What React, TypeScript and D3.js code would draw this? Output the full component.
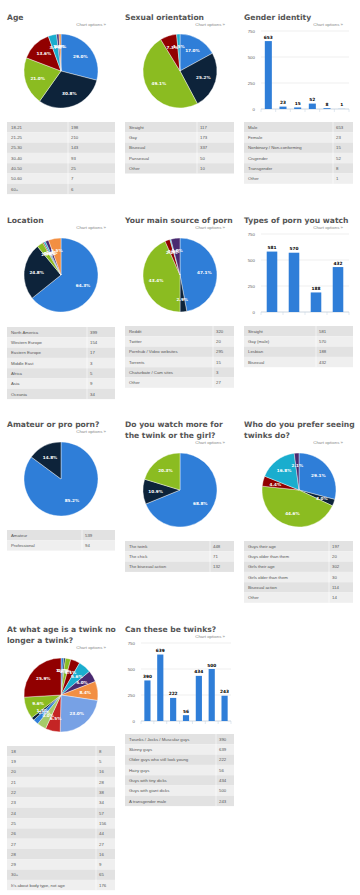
import * as d3 from "d3";

const COLORS = ["#2f7ed8", "#0d233a", "#8bbc21", "#910000", "#1aadce", "#492970", "#f28f43", "#77a1e5", "#c42525", "#a6c96a"];

const ageLabels = ["18-21", "21-25", "25-30", "30-40", "40-50", "50-60", "60+"];
const ageValues = [198, 210, 143, 93, 25, 7, 6];

const orientationLabels = ["Straight", "Gay", "Bisexual", "Pansexual", "Other"];
const orientationValues = [117, 173, 337, 50, 10];

const genderLabels = ["Male", "Female", "Nonbinary / Non-conforming", "Cisgender", "Transgender", "Other"];
const genderValues = [653, 23, 15, 52, 8, 1];

const locationLabels = ["North America", "Western Europe", "Eastern Europe", "Middle East", "Africa", "Asia", "Oceania"];
const locationValues = [399, 154, 17, 3, 5, 9, 34];

const sourceLabels = ["Reddit", "Twitter", "Pornhub / Video websites", "Torrents", "Chaturbate / Cam sites", "Other"];
const sourceValues = [320, 20, 295, 15, 3, 27];

const typeLabels = ["Straight", "Gay (male)", "Lesbian", "Bisexual"];
const typeValues = [581, 570, 188, 432];

const amateurLabels = ["Amateur", "Professional"];
const amateurValues = [539, 94];

const watchLabels = ["The twink", "The chick", "The bisexual action"];
const watchValues = [448, 71, 132];

const preferLabels = ["Guys their age", "Guys older than them", "Girls their age", "Girls older than them", "Bisexual action", "Other"];
const preferValues = [197, 20, 302, 30, 114, 14];

const twinkAgeLabels = ["18", "19", "20", "21", "22", "23", "24", "25", "26", "27", "28", "29", "30+", "It's about body type, not age"];
const twinkAgeValues = [8, 5, 16, 28, 38, 34, 57, 156, 44, 27, 16, 9, 65, 176];

const canLabels = ["Twunks / Jocks / Muscular guys", "Skinny guys", "Older guys who still look young", "Hairy guys", "Guys with tiny dicks", "Guys with giant dicks", "A transgender male"];
const canValues = [390, 639, 222, 56, 434, 500, 243];

const barTicks = [0, 250, 500, 750];

const TITLE_FONT = "'DejaVu Sans', Verdana, sans-serif";
const BODY_FONT = "'Liberation Sans', Arial, sans-serif";

function Title({ x, y, lines, optY, optX }: { x: number; y: number; lines: string[]; optY: number; optX: number }) {
  return (
    <g>
      {lines.map((t, i) => (
        <text key={i} x={x} y={y + i * 11} fontFamily={TITLE_FONT} fontWeight="bold" fontSize={7.6} fill="#555">
          {t}
        </text>
      ))}
      <text x={optX} y={optY} textAnchor="end" fontFamily={BODY_FONT} fontSize={4.4} fill="#888">
        Chart options »
      </text>
    </g>
  );
}

function PieChart({ cx, cy, r, values }: { cx: number; cy: number; r: number; values: number[] }) {
  const arcs = d3.pie<number>().sort(null).value((d) => d)(values);
  const arc = d3.arc<d3.PieArcDatum<number>>().innerRadius(0).outerRadius(r);
  const labelArc = d3.arc<d3.PieArcDatum<number>>().innerRadius(r * 0.66).outerRadius(r * 0.66);
  const total = d3.sum(values);
  return (
    <g transform={`translate(${cx},${cy})`}>
      {arcs.map((a, i) => (
        <path key={i} d={arc(a) ?? ""} fill={COLORS[i % COLORS.length]} stroke="#fff" strokeWidth={0.4} />
      ))}
      {arcs.map((a, i) => {
        const [lx, ly] = labelArc.centroid(a);
        return (
          <text key={i} x={lx} y={ly + 1.5} textAnchor="middle" fontFamily={TITLE_FONT} fontWeight="bold" fontSize={4.2} fill="#fff">
            {((a.value / total) * 100).toFixed(1)}%
          </text>
        );
      })}
    </g>
  );
}

function BarChart({ x0, x1, y0, y1, labels, values }: { x0: number; x1: number; y0: number; y1: number; labels: string[]; values: number[] }) {
  const x = d3.scaleBand().domain(labels).range([x0, x1]).paddingInner(0.52).paddingOuter(0.26);
  const y = d3.scaleLinear().domain([0, 750]).range([y1, y0]);
  const step = (x1 - x0) / labels.length;
  return (
    <g>
      {barTicks.map((t) => (
        <g key={t}>
          <line x1={x0} x2={x1} y1={y(t)} y2={y(t)} stroke="#dedede" strokeWidth={0.5} />
          <text x={x0 - 6} y={y(t) + 1.5} textAnchor="end" fontFamily={BODY_FONT} fontSize={4.4} fill="#666">
            {t}
          </text>
        </g>
      ))}
      <line x1={x0} x2={x1} y1={y1} y2={y1} stroke="#c0d0e0" strokeWidth={0.6} />
      {d3.range(labels.length + 1).map((i) => (
        <line key={i} x1={x0 + i * step} x2={x0 + i * step} y1={y1} y2={y1 + 3} stroke="#c0d0e0" strokeWidth={0.5} />
      ))}
      {labels.map((l, i) => (
        <g key={l}>
          <rect x={x(l)} y={y(values[i])} width={x.bandwidth()} height={y1 - y(values[i])} fill="#2f7ed8" />
          <text x={(x(l) ?? 0) + x.bandwidth() / 2} y={y(values[i]) - 2.5} textAnchor="middle" fontFamily={TITLE_FONT} fontWeight="bold" fontSize={4.3} fill="#000">
            {values[i]}
          </text>
        </g>
      ))}
    </g>
  );
}

function DataTable({ x, y, w, split, labels, values }: { x: number; y: number; w: number; split: number; labels: string[]; values: number[] }) {
  const rowH = 10.3;
  return (
    <g>
      {labels.map((l, i) => (
        <g key={l}>
          <rect x={x} y={y + i * rowH} width={w} height={rowH} fill={i % 2 === 0 ? "#e2e2e2" : "#efefef"} />
          <text x={x + 4} y={y + i * rowH + 6.8} fontFamily={BODY_FONT} fontSize={4.3} fill="#555">
            {l}
          </text>
          <text x={split + 3} y={y + i * rowH + 6.8} fontFamily={BODY_FONT} fontSize={4.3} fill="#555">
            {values[i]}
          </text>
        </g>
      ))}
      <line x1={split} x2={split} y1={y} y2={y + labels.length * rowH} stroke="#fff" strokeWidth={0.6} />
    </g>
  );
}

export default function App() {
  const R = 37;
  return (
    <div style={{ position: "absolute", left: 0, top: 0, width: 360, height: 895, background: "#fff" }}>
      <svg width={360} height={895} style={{ display: "block" }}>
        <rect width={360} height={895} fill="#fff" />

        {/* row 1 */}
        <Title x={7} y={20} lines={["Age"]} optX={106} optY={26} />
        <PieChart cx={61} cy={71} r={R} values={ageValues} />
        <DataTable x={7} y={122} w={108} split={68} labels={ageLabels} values={ageValues} />

        <Title x={125} y={20} lines={["Sexual orientation"]} optX={225} optY={26} />
        <PieChart cx={180} cy={71} r={R} values={orientationValues} />
        <DataTable x={125} y={122} w={109} split={197} labels={orientationLabels} values={orientationValues} />

        <Title x={244} y={20} lines={["Gender identity"]} optX={343} optY={26} />
        <BarChart x0={261} x1={349} y0={31} y1={109} labels={genderLabels} values={genderValues} />
        <DataTable x={244} y={122} w={109} split={333} labels={genderLabels} values={genderValues} />

        {/* row 2 */}
        <Title x={7} y={223} lines={["Location"]} optX={106} optY={229} />
        <PieChart cx={61} cy={275} r={R} values={locationValues} />
        <DataTable x={7} y={327} w={108} split={87} labels={locationLabels} values={locationValues} />

        <Title x={125} y={223} lines={["Your main source of porn"]} optX={225} optY={229} />
        <PieChart cx={180} cy={275} r={R} values={sourceValues} />
        <DataTable x={125} y={326} w={109} split={213} labels={sourceLabels} values={sourceValues} />

        <Title x={244} y={223} lines={["Types of porn you watch"]} optX={343} optY={229} />
        <BarChart x0={261} x1={349} y0={234} y1={312} labels={typeLabels} values={typeValues} />
        <DataTable x={244} y={326} w={109} split={316} labels={typeLabels} values={typeValues} />

        {/* row 3 */}
        <Title x={7} y={427} lines={["Amateur or pro porn?"]} optX={106} optY={433} />
        <PieChart cx={61} cy={479} r={R} values={amateurValues} />
        <DataTable x={7} y={530} w={108} split={82} labels={amateurLabels} values={amateurValues} />

        <Title x={125} y={427} lines={["Do you watch more for", "the twink or the girl?"]} optX={225} optY={444} />
        <PieChart cx={180} cy={490} r={R} values={watchValues} />
        <DataTable x={125} y={541} w={109} split={210} labels={watchLabels} values={watchValues} />

        <Title x={244} y={427} lines={["Who do you prefer seeing", "twinks do?"]} optX={343} optY={444} />
        <PieChart cx={299} cy={490} r={R} values={preferValues} />
        <DataTable x={244} y={541} w={109} split={329} labels={preferLabels} values={preferValues} />

        {/* row 4 */}
        <Title x={7} y={632} lines={["At what age is a twink no", "longer a twink?"]} optX={106} optY={649} />
        <PieChart cx={61} cy={695} r={R} values={twinkAgeValues} />
        <DataTable x={7} y={746} w={108} split={96} labels={twinkAgeLabels} values={twinkAgeValues} />

        <Title x={125} y={632} lines={["Can these be twinks?"]} optX={225} optY={638} />
        <BarChart x0={141} x1={231} y0={643} y1={721} labels={canLabels} values={canValues} />
        <DataTable x={125} y={734} w={109} split={216} labels={canLabels} values={canValues} />
      </svg>
    </div>
  );
}
